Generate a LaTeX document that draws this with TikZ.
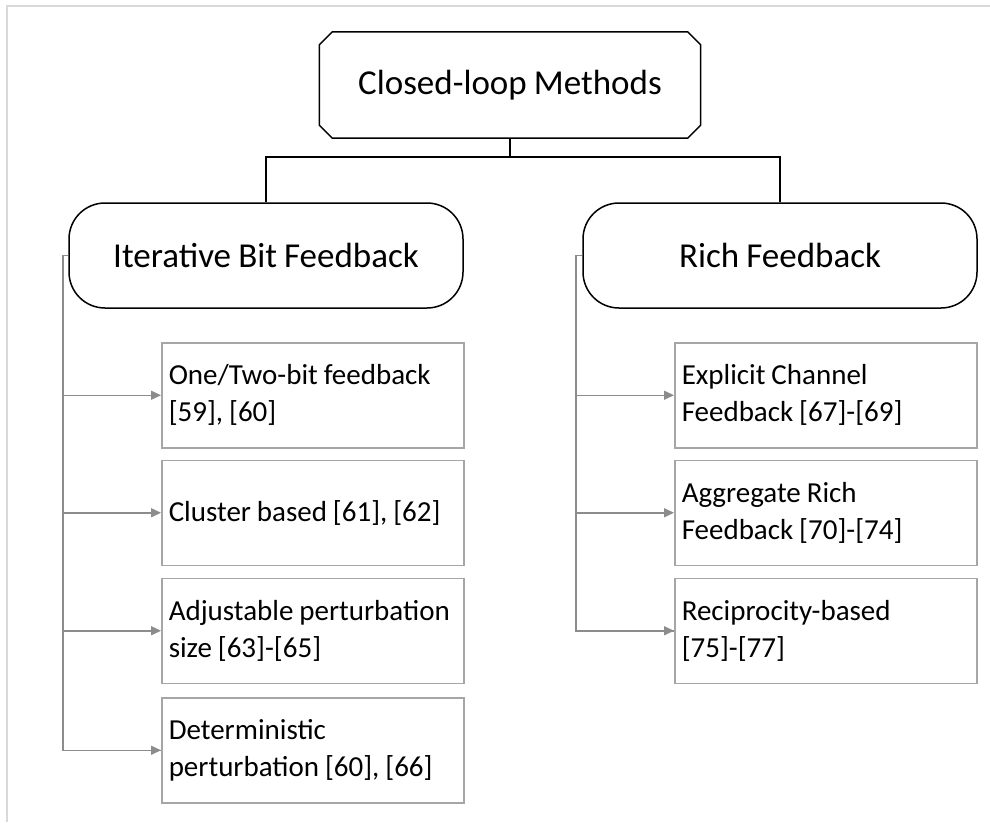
\documentclass[tikz,border=0pt]{standalone}
\usepackage{fontspec}
\setmainfont{Carlito}[WordSpace=0.9]
\usetikzlibrary{arrows.meta}

\definecolor{framegray}{HTML}{D9D9D9}
\definecolor{leafgray}{HTML}{A6A6A6}
\definecolor{linkgray}{HTML}{8C8C8C}

\tikzset{
  rootbox/.style={rectangle, minimum width=381pt, minimum height=106pt,
    inner sep=0pt, font=\fontsize{35}{42}\selectfont},
  branchbox/.style={draw=black, line width=1.5pt, rounded corners=36pt,
    minimum width=394pt, minimum height=105pt, inner sep=0pt,
    font=\fontsize{35}{42}\selectfont},
  leafbox/.style={draw=leafgray, line width=1.5pt, rectangle, anchor=north west,
    text width=288pt, inner xsep=7pt, inner ysep=0pt, align=flush left,
    minimum height=105pt, font=\fontsize{29}{37}\selectfont},
  tree/.style={draw=black, line width=1.5pt},
  feed/.style={draw=linkgray, line width=1.5pt},
  feedarrow/.style={feed, -{Triangle[length=10pt,width=9pt]}},
}

\begin{document}
\begin{tikzpicture}[x=1pt,y=-1pt]
  \useasboundingbox (0,0) rectangle (990,822);
  % page frame (top and left edges only)
  \draw[framegray, line width=2pt] (990,5.5) -- (7,5.5) -- (7,822);

  % hierarchy
  \node[rootbox] (root) at (510,85) {Closed-loop Methods};
  % snipped-corner outline of the root box
  \draw[tree, line join=miter]
    ([xshift=13pt]root.north west) -- ([xshift=-13pt]root.north east)
    -- ([yshift=-13pt]root.north east) -- ([yshift=13pt]root.south east)
    -- ([xshift=-13pt]root.south east) -- ([xshift=13pt]root.south west)
    -- ([yshift=13pt]root.south west) -- ([yshift=-13pt]root.north west)
    -- cycle;
  \node[branchbox] (ibf) at (266,255.5) {Iterative Bit Feedback};
  \node[branchbox] (rf) at (780,255.5) {Rich Feedback};

  \coordinate (bus) at ([yshift=-19pt]root.south);
  \draw[tree] (root.south) -- (bus);
  \draw[tree] (ibf.north) |- (bus) -| (rf.north);

  % left column
  \node[leafbox] (l1) at (161,342) {One/Two-bit feedback\\{}[59], [60]};
  \node[leafbox] (l2) at (161,459.5) {Cluster based [61], [62]};
  \node[leafbox] (l3) at (161,577.5) {Adjustable perturbation\\size [63]-[65]};
  \node[leafbox] (l4) at (161,697) {Deterministic\\perturbation [60], [66]};

  % right column
  \node[leafbox] (r1) at (674,342) {Explicit Channel\\Feedback [67]-[69]};
  \node[leafbox] (r2) at (674,459.5) {Aggregate Rich\\Feedback [70]-[74]};
  \node[leafbox] (r3) at (674,577.5) {Reciprocity-based\\{}[75]-[77]};

  % feed lines from the branch boxes
  \coordinate (lspine) at (63,255.5);
  \coordinate (rspine) at (576,255.5);
  \draw[feed] (ibf.west) -- (lspine) |- (l4.west);
  \draw[feed] (rf.west) -- (rspine) |- (r3.west);
  \foreach \n in {l1,l2,l3,l4}
    \draw[feedarrow] (lspine |- \n.west) -- (\n.west);
  \foreach \n in {r1,r2,r3}
    \draw[feedarrow] (rspine |- \n.west) -- (\n.west);
\end{tikzpicture}
\end{document}
